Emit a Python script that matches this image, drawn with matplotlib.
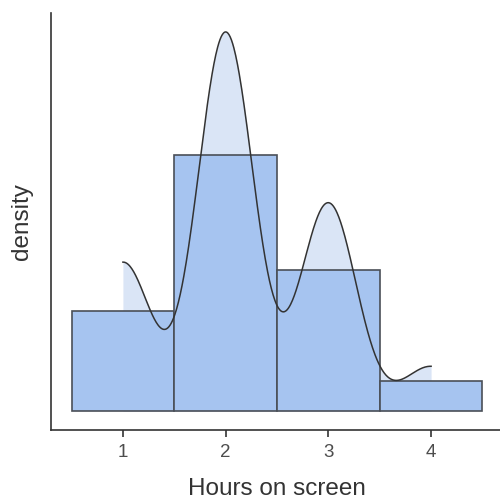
import numpy as np
import matplotlib
matplotlib.use("Agg")
import matplotlib.pyplot as plt

plt.rcParams['font.family'] = ['Liberation Sans', 'DejaVu Sans']

# hours on screen -> number of people
hours = [1, 2, 3, 4]
counts = [20, 51, 28, 6]
bandwidth = 0.27

values = np.repeat(hours, counts).astype(float)
n = len(values)
dens = np.array(counts) / n  # bin width is 1

# gaussian kde over the data range
grid = np.linspace(values.min(), values.max(), 512)
kde = np.exp(-0.5 * ((grid[:, None] - values[None, :]) / bandwidth) ** 2).sum(axis=1)
kde /= n * bandwidth * np.sqrt(2 * np.pi)

fig = plt.figure(figsize=(5, 5), dpi=100)
ax = fig.add_axes([0.102, 0.14, 0.904, 0.834])

ax.fill_between(grid, kde, color="#dae5f6", zorder=1, linewidth=0)
ax.bar(hours, dens, width=1, color="#a6c4f0", edgecolor="#4a4f57",
       linewidth=1.2, zorder=2)
ax.plot(grid, kde, color="#333333", linewidth=1.1, zorder=3)

ymax = max(kde.max(), dens.max())
ax.set_ylim(-0.05 * ymax, 1.05 * ymax)
ax.set_xlim(0.3, 4.7)

ax.set_xticks(hours)
ax.set_yticks([])
ax.tick_params(axis="x", length=5, width=1.2, color="#333333",
               labelsize=13.5, labelcolor="#4d4d4d", pad=5)

for side in ["top", "right"]:
    ax.spines[side].set_visible(False)
for side in ["left", "bottom"]:
    ax.spines[side].set_color("#333333")
    ax.spines[side].set_linewidth(1.2)

ax.set_xlabel("Hours on screen", fontsize=17.5, color="#333333", va="baseline")
ax.xaxis.set_label_coords(0.5, -0.156)
ax.set_ylabel("density", fontsize=17.5, color="#333333", labelpad=13)

fig.savefig("out.png", dpi=100)
